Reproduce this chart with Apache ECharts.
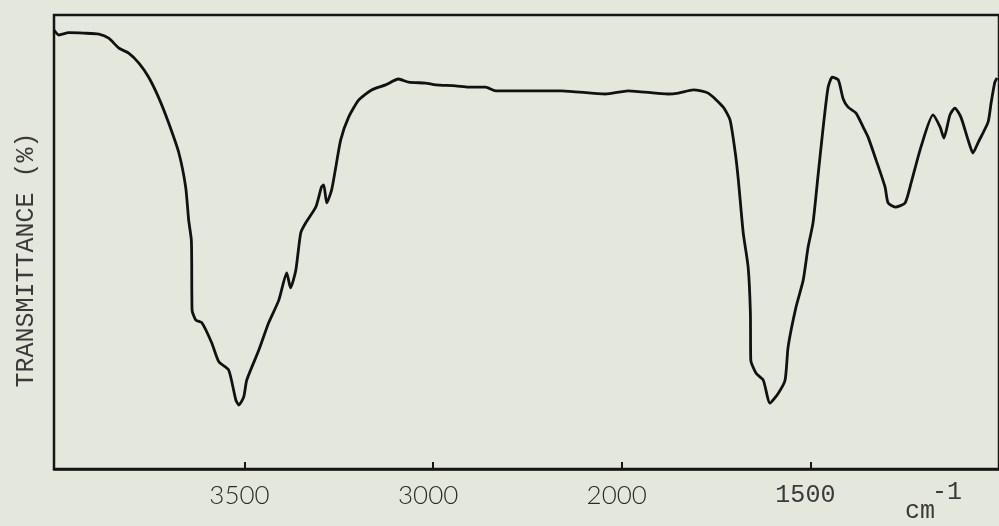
<!DOCTYPE html>
<html>
<head>
<meta charset="utf-8">
<script src="https://cdn.jsdelivr.net/npm/echarts@6/dist/echarts.min.js"></script>
<style>
  html, body { margin: 0; padding: 0; background: #e4e8dc; }
  #chart { width: 999px; height: 526px; }
</style>
</head>
<body>
<div id="chart"></div>
<script>
// Wavenumbers (cm-1), left to right
const wavenumber = [
  4005, 3992, 3966, 3926, 3886, 3860, 3833, 3807, 3780, 3754,
  3727, 3701, 3674, 3656, 3648, 3641, 3640, 3639, 3629, 3613,
  3587, 3568, 3542, 3523, 3515, 3502, 3494, 3462, 3436, 3409,
  3388, 3378, 3364, 3351, 3338, 3311, 3296, 3290, 3282, 3269,
  3258, 3245, 3224, 3197, 3163, 3126, 3092, 3065, 3020, 2987,
  2881, 2813, 2722, 2669, 2495, 2320, 2087, 1983, 1877, 1850,
  1810, 1771, 1731, 1713, 1699, 1691, 1678, 1665, 1659, 1658,
  1644, 1625, 1607, 1585, 1567, 1559, 1538, 1519, 1506, 1493,
  1479, 1466, 1453, 1442, 1426, 1413, 1400, 1379, 1360, 1347,
  1326, 1302, 1294, 1275, 1249, 1233, 1207, 1175, 1156, 1146,
  1130, 1117, 1101, 1082, 1069, 1056, 1029, 1021, 1011, 1005
];
// Transmittance (%) at each wavenumber
const transmittance = [
  96.7, 95.6, 96.1, 96.0, 95.8, 94.9, 92.7, 91.6, 89.4, 86.3,
  81.7, 76.2, 69.6, 62.1, 54.8, 50.5, 46.0, 35.0, 32.8, 32.2,
  27.8, 23.6, 21.8, 15.2, 14.1, 15.9, 19.6, 26.2, 32.2, 37.2,
  43.2, 39.9, 43.8, 52.0, 54.2, 57.7, 62.1, 62.6, 58.6, 61.5,
  66.5, 72.5, 77.5, 81.3, 83.5, 84.6, 85.9, 85.2, 85.0, 84.6,
  84.4, 84.1, 84.1, 83.3, 83.3, 83.3, 82.6, 83.3, 82.6, 82.8,
  83.5, 82.8, 79.7, 76.9, 69.6, 63.7, 52.0, 44.5, 34.4, 24.0,
  21.1, 19.6, 14.5, 16.7, 19.6, 26.9, 35.7, 41.6, 48.9, 54.2,
  65.2, 75.3, 84.1, 86.3, 85.7, 81.5, 79.7, 78.4, 75.3, 73.1,
  68.1, 62.1, 58.6, 57.7, 58.6, 63.0, 70.9, 78.0, 75.3, 72.9,
  78.0, 79.5, 77.5, 72.5, 69.6, 71.8, 76.4, 80.6, 85.2, 86.1
];
// Tick marks and their labels on the wavenumber axis
const tickWavenumbers = [3500, 3000, 2000, 1500];
const tickLabels = ['3500', '3000', '2000', '1500'];
// Scale change of the chart paper: piecewise-linear wavenumber axis
const scaleBreakWn = [4000, 3000, 2000, 1000];
const scaleBreakPos = [0, 2, 3, 5];
const axisStartWn = 4005, axisEndWn = 1000;
const yTitle = 'TRANSMITTANCE (%)';
const unitText = 'cm';
const unitExp = '-1';

function toPos(wn) {
  for (let i = 0; i < scaleBreakWn.length - 1; i++) {
    const a = scaleBreakWn[i], b = scaleBreakWn[i + 1];
    if ((wn <= a && wn >= b) || (i === 0 && wn > a) || (i === scaleBreakWn.length - 2)) {
      const t = (a - wn) / (a - b);
      return scaleBreakPos[i] + t * (scaleBreakPos[i + 1] - scaleBreakPos[i]);
    }
  }
}

const tickPos = tickWavenumbers.map(toPos);
const seriesData = wavenumber.map((w, i) => [toPos(w), transmittance[i]]);

const chart = echarts.init(document.getElementById('chart'));
chart.setOption({
  backgroundColor: '#e4e8dc',
  animation: false,
  grid: {
    left: 54, right: 0, top: 15, bottom: 57,
    show: true, borderColor: '#151515', borderWidth: 2.5,
    backgroundColor: 'transparent'
  },
  xAxis: {
    type: 'value',
    min: toPos(axisStartWn),
    max: toPos(axisEndWn),
    splitLine: { show: false },
    axisLine: { show: true, lineStyle: { color: '#151515', width: 2.5 } },
    axisTick: {
      show: true, inside: true, length: 7, customValues: tickPos,
      lineStyle: { color: '#151515', width: 2 }
    },
    axisLabel: {
      show: true, customValues: tickPos, margin: 14,
      padding: [0, 10, 0, 0],
      formatter: function (v) {
        let best = 0;
        tickPos.forEach((p, i) => { if (Math.abs(p - v) < Math.abs(tickPos[best] - v)) best = i; });
        const s = tickLabels[best];
        return best === tickLabels.length - 1 ? '{m|' + s + '}' : '{s|' + s + '}';
      },
      rich: {
        s: { fontFamily: 'Lato', fontWeight: 300, fontSize: 26, color: '#2a2a2a' },
        m: { fontFamily: 'Liberation Mono', fontSize: 25, color: '#3a3a3a' }
      }
    }
  },
  yAxis: {
    type: 'value', min: 0, max: 100,
    axisLine: { show: false }, axisTick: { show: false },
    axisLabel: { show: false }, splitLine: { show: false }
  },
  graphic: [
    {
      type: 'text', x: 26, y: 260, rotation: Math.PI / 2,
      style: { text: yTitle, font: '25px "Liberation Mono"', fill: '#3a3a3a', textAlign: 'center', textVerticalAlign: 'middle' }
    },
    { type: 'text', left: 905, top: 499, style: { text: unitText, font: '25px "Liberation Mono"', fill: '#3a3a3a' } },
    { type: 'text', left: 932, top: 480, style: { text: unitExp, font: '25px "Liberation Mono"', fill: '#3a3a3a' } }
  ],
  series: [{
    type: 'line',
    data: seriesData,
    showSymbol: false,
    smooth: 0.2,
    lineStyle: { color: '#111', width: 2.8 }
  }]
});
</script>
</body>
</html>
